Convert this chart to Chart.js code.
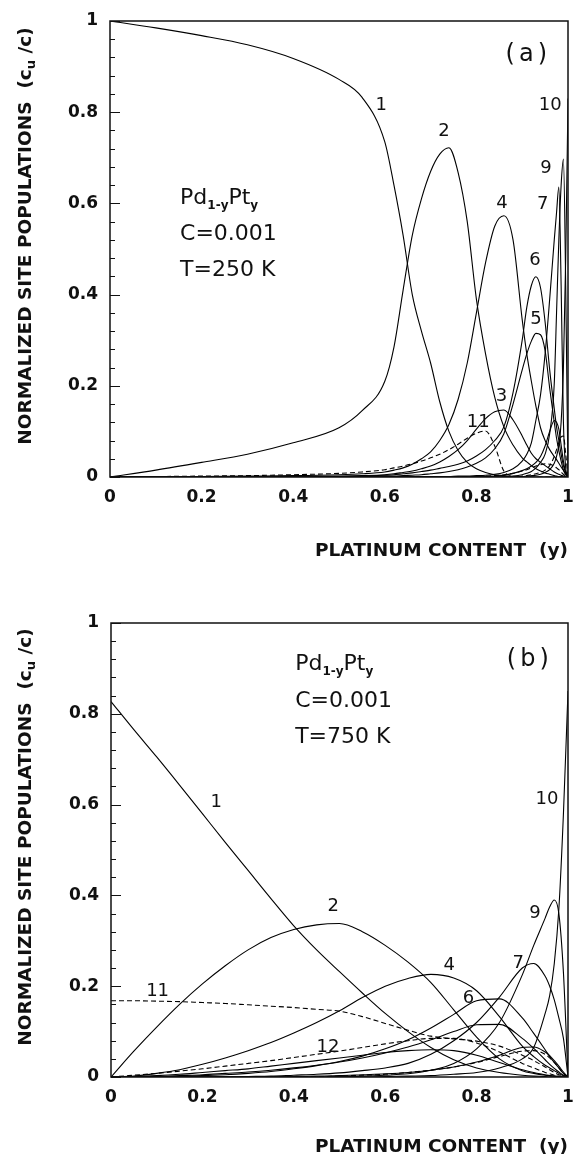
<!DOCTYPE html>
<html>
<head>
<meta charset="utf-8">
<script src="https://cdn.jsdelivr.net/npm/chart.js@4.4.1/dist/chart.umd.min.js"></script>
<style>
  html, body { margin: 0; padding: 0; background: #fff; }
  #wrap { position: relative; width: 575px; height: 1154px; overflow: hidden; }
  canvas { position: absolute; left: 0; }
  #chartA { top: 0; }
  #chartB { top: 577px; }
</style>
</head>
<body>
<div id="wrap">
  <canvas id="chartA" width="575" height="577"></canvas>
  <canvas id="chartB" width="575" height="577"></canvas>
</div>
<script>
// ---- data ----
var tickLabels = ['0', '0.2', '0.4', '0.6', '0.8', '1'];

// panel (a), T = 250 K
var xA = [0, 0.1, 0.2, 0.3, 0.4, 0.5, 0.55, 0.6, 0.62, 0.64,
          0.66, 0.68, 0.7, 0.72, 0.74, 0.76, 0.78, 0.8, 0.82, 0.84,
          0.86, 0.88, 0.9, 0.91, 0.92, 0.93, 0.94, 0.95, 0.96, 0.97,
          0.975, 0.98, 0.985, 0.99, 0.995, 1];
var a1 = [1.0, 0.985, 0.968, 0.948, 0.918, 0.872, 0.833, 0.735, 0.64, 0.53,
          0.40, 0.32, 0.25, 0.165, 0.10, 0.058, 0.032, 0.018, 0.01, 0.005,
          0.003, 0.001, 0.001, 0, 0, 0, 0, 0, 0, 0,
          0, 0, 0, 0, 0, 0];
var a2 = [0, 0.015, 0.032, 0.05, 0.075, 0.108, 0.145, 0.21, 0.285, 0.41,
          0.53, 0.61, 0.67, 0.708, 0.722, 0.668, 0.56, 0.39, 0.27, 0.175,
          0.11, 0.07, 0.042, 0.033, 0.025, 0.018, 0.013, 0.009, 0.006, 0.003,
          0.002, 0.001, 0.001, 0, 0, 0];
var a3 = [0, 0, 0, 0.001, 0.001, 0.002, 0.003, 0.005, 0.007, 0.01,
          0.013, 0.018, 0.024, 0.033, 0.045, 0.06, 0.08, 0.105, 0.128, 0.143,
          0.147, 0.125, 0.09, 0.07, 0.052, 0.04, 0.032, 0.025, 0.018, 0.011,
          0.008, 0.006, 0.004, 0.002, 0.001, 0];
var a4 = [0, 0, 0.001, 0.002, 0.003, 0.005, 0.007, 0.011, 0.015, 0.02,
          0.028, 0.04, 0.055, 0.08, 0.115, 0.17, 0.25, 0.36, 0.47, 0.55,
          0.573, 0.52, 0.345, 0.27, 0.21, 0.155, 0.108, 0.08, 0.06, 0.045,
          0.038, 0.03, 0.022, 0.015, 0.007, 0];
var a5 = [0, 0, 0, 0, 0, 0.001, 0.001, 0.002, 0.002, 0.003,
          0.004, 0.005, 0.007, 0.009, 0.012, 0.016, 0.022, 0.03, 0.042, 0.062,
          0.095, 0.16, 0.235, 0.27, 0.298, 0.315, 0.312, 0.277, 0.195, 0.12,
          0.085, 0.058, 0.035, 0.015, 0.005, 0];
var a6 = [0, 0, 0, 0, 0.001, 0.001, 0.002, 0.004, 0.005, 0.007,
          0.009, 0.012, 0.015, 0.019, 0.023, 0.028, 0.035, 0.046, 0.06, 0.08,
          0.11, 0.185, 0.30, 0.372, 0.42, 0.439, 0.415, 0.34, 0.235, 0.15,
          0.11, 0.08, 0.05, 0.025, 0.01, 0];
var a7 = [0, 0, 0, 0, 0, 0, 0, 0, 0, 0.001,
          0.001, 0.001, 0.001, 0.001, 0.001, 0.002, 0.002, 0.003, 0.004, 0.006,
          0.01, 0.018, 0.035, 0.05, 0.075, 0.125, 0.18, 0.27, 0.39, 0.52,
          0.58, 0.636, 0.42, 0.12, 0.02, 0];
var a8 = [0, 0, 0, 0, 0, 0, 0, 0, 0, 0,
          0, 0, 0, 0, 0, 0, 0, 0.001, 0.001, 0.002,
          0.004, 0.008, 0.014, 0.018, 0.024, 0.032, 0.045, 0.068, 0.1, 0.124,
          0.12, 0.105, 0.07, 0.035, 0.01, 0];
var a9 = [0, 0, 0, 0, 0, 0, 0, 0, 0, 0,
          0, 0, 0, 0, 0, 0, 0, 0, 0, 0,
          0.001, 0.002, 0.005, 0.008, 0.012, 0.02, 0.032, 0.05, 0.095, 0.205,
          0.36, 0.52, 0.64, 0.697, 0.42, 0];
var a10 = [0, 0, 0, 0, 0, 0, 0, 0, 0, 0,
           0, 0, 0, 0, 0, 0, 0, 0, 0, 0,
           0, 0, 0.001, 0.002, 0.003, 0.004, 0.006, 0.01, 0.016, 0.03,
           0.045, 0.07, 0.12, 0.24, 0.48, 0.83];
var a11 = [0, 0.001, 0.002, 0.003, 0.005, 0.008, 0.011, 0.016, 0.02, 0.024,
           0.029, 0.035, 0.042, 0.05, 0.06, 0.072, 0.085, 0.096, 0.101, 0.068,
           0.013, 0.002, 0, 0, 0, 0, 0, 0, 0, 0,
           0, 0, 0, 0, 0, 0];
var a12 = [0, 0, 0, 0, 0, 0, 0, 0, 0, 0,
           0, 0, 0, 0, 0, 0, 0, 0.001, 0.002, 0.003,
           0.005, 0.008, 0.013, 0.016, 0.02, 0.024, 0.027, 0.029, 0.028, 0.024,
           0.02, 0.016, 0.011, 0.006, 0.002, 0];
var a13 = [0, 0, 0, 0, 0, 0, 0, 0, 0, 0,
           0, 0, 0, 0, 0, 0, 0, 0, 0, 0,
           0, 0, 0.002, 0.003, 0.005, 0.007, 0.01, 0.015, 0.025, 0.045,
           0.06, 0.075, 0.088, 0.09, 0.05, 0];

// panel (b), T = 750 K
var xB = [0, 0.05, 0.1, 0.15, 0.2, 0.25, 0.3, 0.35, 0.4, 0.45,
          0.5, 0.55, 0.6, 0.65, 0.7, 0.75, 0.8, 0.85, 0.9, 0.925,
          0.95, 0.96, 0.97, 0.98, 0.99, 1];
var b1 = [0.827, 0.765, 0.705, 0.643, 0.58, 0.517, 0.455, 0.393, 0.333, 0.28,
          0.232, 0.185, 0.14, 0.1, 0.065, 0.038, 0.02, 0.01, 0.004, 0.002,
          0.001, 0, 0, 0, 0, 0];
var b2 = [0, 0.057, 0.11, 0.16, 0.205, 0.245, 0.28, 0.307, 0.325, 0.335,
          0.338, 0.32, 0.29, 0.253, 0.208, 0.148, 0.088, 0.04, 0.014, 0.008,
          0.004, 0.003, 0.002, 0.001, 0, 0];
var b3 = [0, 0.001, 0.003, 0.006, 0.01, 0.014, 0.018, 0.024, 0.03, 0.036,
          0.042, 0.048, 0.054, 0.058, 0.06, 0.058, 0.048, 0.032, 0.016, 0.01,
          0.005, 0.003, 0.002, 0.001, 0, 0];
var b4 = [0, 0.002, 0.008, 0.016, 0.028, 0.042, 0.058, 0.076, 0.097, 0.12,
          0.146, 0.175, 0.2, 0.217, 0.226, 0.218, 0.19, 0.133, 0.068, 0.045,
          0.026, 0.02, 0.014, 0.008, 0.003, 0];
var b5 = [0, 0, 0.001, 0.003, 0.005, 0.008, 0.011, 0.015, 0.02, 0.026,
          0.033, 0.042, 0.053, 0.066, 0.082, 0.1, 0.115, 0.116, 0.085, 0.063,
          0.038, 0.028, 0.019, 0.011, 0.004, 0];
var b6 = [0, 0, 0.001, 0.002, 0.003, 0.005, 0.008, 0.012, 0.018, 0.025,
          0.034, 0.046, 0.062, 0.082, 0.108, 0.138, 0.168, 0.172, 0.13, 0.096,
          0.06, 0.045, 0.032, 0.02, 0.008, 0];
var b7 = [0, 0, 0, 0, 0, 0, 0.001, 0.002, 0.004, 0.006,
          0.009, 0.014, 0.02, 0.03, 0.05, 0.08, 0.12, 0.176, 0.24, 0.25,
          0.222, 0.2, 0.17, 0.13, 0.085, 0];
var b8 = [0, 0, 0, 0, 0, 0, 0, 0, 0.001, 0.002,
          0.003, 0.005, 0.007, 0.01, 0.015, 0.022, 0.033, 0.048, 0.065, 0.066,
          0.055, 0.047, 0.036, 0.024, 0.011, 0];
var b9 = [0, 0, 0, 0, 0, 0, 0, 0, 0, 0,
          0.001, 0.002, 0.004, 0.007, 0.015, 0.03, 0.062, 0.12, 0.225, 0.29,
          0.35, 0.375, 0.39, 0.36, 0.23, 0];
var b10 = [0, 0, 0, 0, 0, 0, 0, 0, 0, 0,
           0, 0, 0.001, 0.002, 0.003, 0.006, 0.01, 0.02, 0.04, 0.065,
           0.14, 0.18, 0.25, 0.37, 0.58, 0.85];
var b11 = [0.168, 0.168, 0.167, 0.166, 0.164, 0.162, 0.159, 0.156, 0.153, 0.149,
           0.145, 0.133, 0.118, 0.103, 0.09, 0.084, 0.079, 0.068, 0.048, 0.036,
           0.022, 0.016, 0.01, 0.005, 0.002, 0];
var b12 = [0, 0.004, 0.008, 0.013, 0.018, 0.024, 0.03, 0.036, 0.043, 0.05,
           0.057, 0.065, 0.073, 0.08, 0.085, 0.085, 0.075, 0.055, 0.03, 0.02,
           0.01, 0.007, 0.004, 0.002, 0.001, 0];
var b13 = [0, 0, 0, 0, 0, 0, 0, 0, 0.001, 0.001,
           0.002, 0.004, 0.006, 0.01, 0.015, 0.022, 0.032, 0.045, 0.057, 0.058,
           0.05, 0.042, 0.032, 0.02, 0.008, 0];

// curve tags (text, and where they sit in data units)
var tagsA = ['1', '2', '10', '9', '4', '7', '6', '5', '3', '11'];
var tagXA = [0.592, 0.729, 0.961, 0.952, 0.856, 0.945, 0.928, 0.930, 0.855, 0.804];
var tagYA = [0.818, 0.761, 0.819, 0.682, 0.605, 0.601, 0.479, 0.350, 0.180, 0.125];
var tagsB = ['1', '10', '2', '9', '4', '7', '6', '11', '12'];
var tagXB = [0.230, 0.954, 0.486, 0.928, 0.740, 0.891, 0.782, 0.102, 0.475];
var tagYB = [0.610, 0.615, 0.379, 0.364, 0.250, 0.254, 0.177, 0.192, 0.070];

var seriesA = [a1, a2, a3, a4, a5, a6, a7, a8, a9, a10, a11, a12, a13];
var dashedA = [false, false, false, false, false, false, false, false, false, false, true, true, true];
var seriesB = [b1, b2, b3, b4, b5, b6, b7, b8, b9, b10, b11, b12, b13];
var dashedB = [false, false, false, false, false, false, false, false, false, false, true, true, true];

// ---- drawing ----
var FONT = '"DejaVu Sans", sans-serif';
Chart.defaults.font.family = FONT;
Chart.defaults.color = '#111';

function partsWidth(ctx, parts) {
    var w = 0;
    parts.forEach(function (p) { ctx.font = p.f; w += ctx.measureText(p.t).width + (p.gap || 0); });
    return w;
}

function drawParts(ctx, parts, x, y) {
    parts.forEach(function (p) {
        ctx.font = p.f;
        ctx.fillText(p.t, x, y + (p.dy || 0));
        x += ctx.measureText(p.t).width + (p.gap || 0);
    });
}

function makeFrame(info) {
    return {
        id: 'frame' + info.key,
        afterDatasetsDraw: function (chart) {
            var ctx = chart.ctx, a = chart.chartArea;
            var sx = chart.scales.x, sy = chart.scales.y;
            ctx.save();
            ctx.strokeStyle = '#111';
            ctx.fillStyle = '#111';

            // box
            ctx.lineWidth = 1.5;
            ctx.strokeRect(a.left, a.top, a.right - a.left, a.bottom - a.top);

            // inward ticks on the left axis
            ctx.lineWidth = 1;
            sy.ticks.forEach(function (t) {
                var py = Math.round(sy.getPixelForValue(t.value)) + 0.5;
                var len = t.label !== '' ? 10 : 5;
                ctx.beginPath();
                ctx.moveTo(a.left, py);
                ctx.lineTo(a.left + len, py);
                ctx.stroke();
            });

            // curve numbers
            ctx.textAlign = 'center';
            ctx.textBaseline = 'alphabetic';
            ctx.font = '18px ' + FONT;
            info.tags.forEach(function (t, i) {
                ctx.fillText(t, sx.getPixelForValue(info.tagX[i]), sy.getPixelForValue(info.tagY[i]) + 6.5);
            });

            // panel letter
            ctx.textAlign = 'left';
            var letter = [
                { t: '(', f: '24px ' + FONT, gap: 4 },
                { t: info.letter, f: '24px ' + FONT, gap: 4 },
                { t: ')', f: '24px ' + FONT }
            ];
            var lw = partsWidth(ctx, letter);
            drawParts(ctx, letter, sx.getPixelForValue(info.letterX) - lw / 2, sy.getPixelForValue(info.letterY) + 8.5);

            // alloy / conditions block
            var bx = sx.getPixelForValue(info.blockX);
            drawParts(ctx, [
                { t: 'Pd', f: '22px ' + FONT },
                { t: '1-y', f: 'bold 12px ' + FONT, dy: 5 },
                { t: 'Pt', f: '22px ' + FONT },
                { t: 'y', f: 'bold 12px ' + FONT, dy: 5 }
            ], bx, sy.getPixelForValue(info.blockY[0]));
            ctx.font = '22px ' + FONT;
            ctx.fillText('C=0.001', bx, sy.getPixelForValue(info.blockY[1]));
            ctx.fillText(info.temp, bx, sy.getPixelForValue(info.blockY[2]));

            // x title
            ctx.textAlign = 'right';
            ctx.font = 'bold 18.5px ' + FONT;
            ctx.fillText('PLATINUM CONTENT  (y)', a.right, a.bottom + info.xTitleOff + 6.7);

            // y title (rotated, with subscript)
            var yParts = [
                { t: 'NORMALIZED SITE POPULATIONS  (c', f: 'bold 18.5px ' + FONT },
                { t: 'u', f: 'bold 13px ' + FONT, dy: 4 },
                { t: ' /c)', f: 'bold 18.5px ' + FONT }
            ];
            var yw = partsWidth(ctx, yParts);
            ctx.translate(24 + 6.7, (a.top + a.bottom) / 2 - 13);
            ctx.rotate(-Math.PI / 2);
            ctx.textAlign = 'left';
            drawParts(ctx, yParts, -yw / 2, 0);
            ctx.restore();
        }
    };
}

function makeChart(info) {
    var datasets = info.series.map(function (ys, k) {
        return {
            data: info.xs.map(function (x, i) { return { x: x, y: ys[i] }; }),
            borderColor: '#000',
            borderWidth: 1.1,
            borderDash: info.dashed[k] ? [5, 3] : [],
            pointRadius: 0,
            fill: false,
            cubicInterpolationMode: 'monotone'
        };
    });
    return new Chart(document.getElementById(info.id), {
        type: 'line',
        data: { datasets: datasets },
        options: {
            responsive: false,
            animation: false,
            devicePixelRatio: 1,
            layout: { padding: { top: info.top, right: 7, bottom: 0, left: 0 } },
            plugins: { legend: { display: false }, tooltip: { enabled: false } },
            scales: {
                x: {
                    type: 'linear', min: 0, max: 1,
                    grid: { display: false, drawTicks: false },
                    border: { display: false },
                    ticks: {
                        stepSize: 0.2, autoSkip: false, maxRotation: 0, padding: 10,
                        font: { size: 17, weight: 'bold' },
                        callback: function (v) { return tickLabels[Math.round(v / 0.2)]; }
                    },
                    afterFit: function (s) {
                        s.height = info.xh;
                        s.paddingLeft = 0;
                        s.paddingRight = 0;
                    }
                },
                y: {
                    min: 0, max: 1,
                    grid: { display: false, drawTicks: false },
                    border: { display: false },
                    ticks: {
                        stepSize: 0.04, autoSkip: false, padding: 12,
                        font: { size: 17, weight: 'bold' },
                        callback: function (v) {
                            var k = Math.round(v / 0.2);
                            return Math.abs(v - k * 0.2) < 1e-6 ? tickLabels[k] : '';
                        }
                    },
                    afterFit: function (s) {
                        s.width = info.left;
                        s.paddingTop = 0;
                        s.paddingBottom = 0;
                    }
                }
            }
        },
        plugins: [makeFrame(info)]
    });
}

makeChart({
    key: 'A', id: 'chartA', xs: xA, series: seriesA, dashed: dashedA,
    top: 21, left: 110, xh: 100, xTitleOff: 72,
    tags: tagsA, tagX: tagXA, tagY: tagYA,
    letter: 'a', letterX: 0.909, letterY: 0.930,
    blockX: 0.153, blockY: [0.599, 0.520, 0.441], temp: 'T=250 K'
});

makeChart({
    key: 'B', id: 'chartB', xs: xB, series: seriesB, dashed: dashedB,
    top: 46, left: 111, xh: 77, xTitleOff: 68,
    tags: tagsB, tagX: tagXB, tagY: tagYB,
    letter: 'b', letterX: 0.912, letterY: 0.923,
    blockX: 0.403, blockY: [0.896, 0.815, 0.736], temp: 'T=750 K'
});
</script>
</body>
</html>
